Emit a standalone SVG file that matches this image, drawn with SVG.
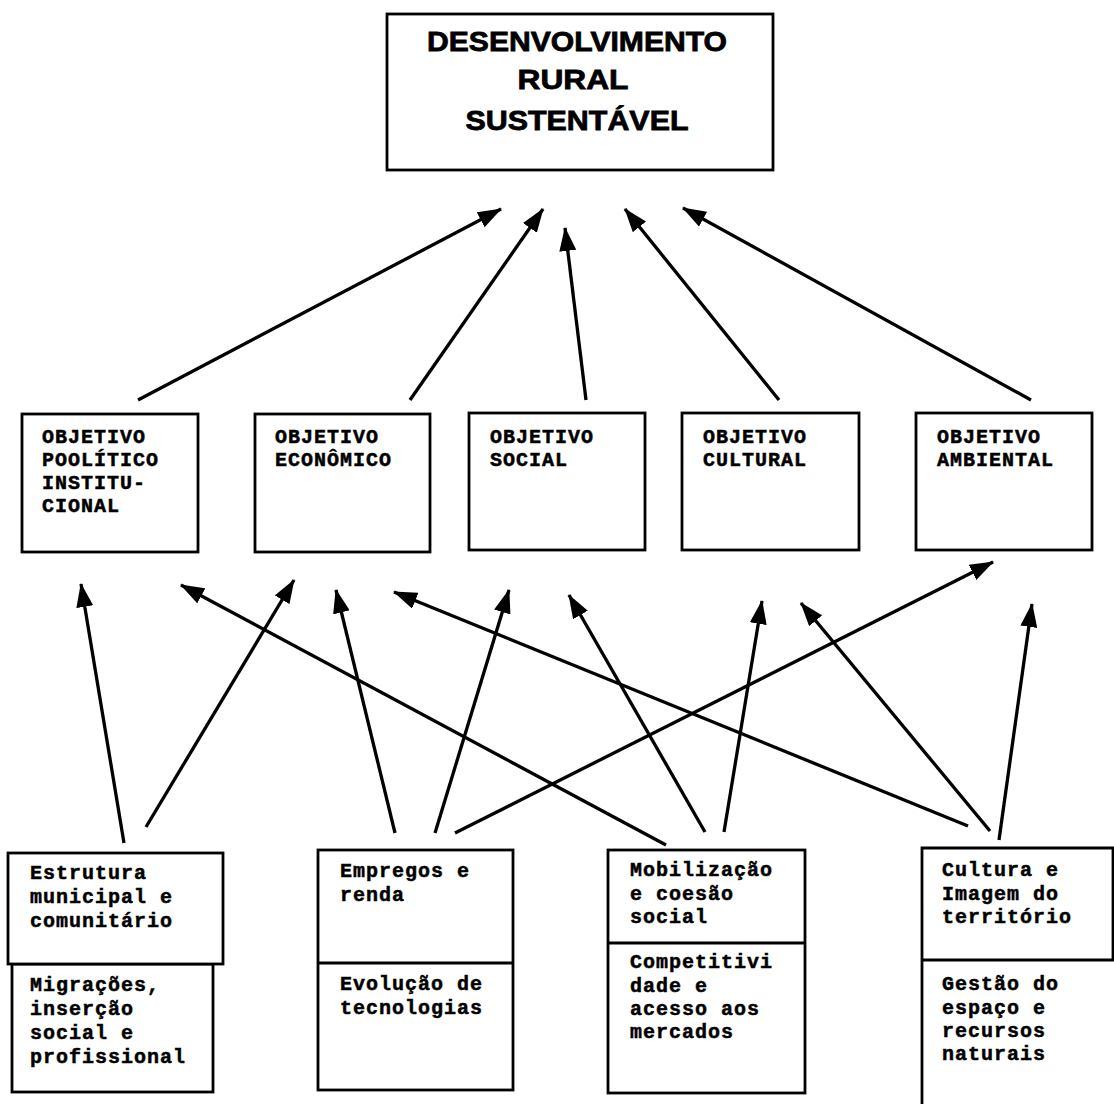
<svg xmlns="http://www.w3.org/2000/svg" width="1114" height="1104" viewBox="0 0 1114 1104">
<style>
.box{fill:#fff;stroke:#000;stroke-width:2.8}
.t{font-family:"Liberation Mono","Courier New",monospace;font-weight:bold;font-size:20px;letter-spacing:1px;fill:#000;stroke:#000;stroke-width:0.5}
.h{font-family:"Liberation Sans",Arial,sans-serif;font-weight:bold;font-size:28px;fill:#000;stroke:#000;stroke-width:0.8;text-anchor:middle}
.c{stroke:#000;stroke-width:3.3;fill:none;marker-end:url(#ah)}
.d{stroke:#000;stroke-width:2.8}
</style>
<defs>
<marker id="ah" viewBox="0 0 24 17" refX="23" refY="8.5" markerWidth="24" markerHeight="17" markerUnits="userSpaceOnUse" orient="auto">
<path d="M0,0 L24,8.5 L0,17 z" fill="#000"/>
</marker>
</defs>
<rect width="1114" height="1104" fill="#fff"/>
<g id="connectors">
<line class="c" x1="138" y1="400" x2="501" y2="209"/>
<line class="c" x1="410" y1="400" x2="543" y2="209"/>
<line class="c" x1="586" y1="400" x2="565" y2="228"/>
<line class="c" x1="779" y1="400" x2="625" y2="209"/>
<line class="c" x1="1031" y1="400" x2="683" y2="208"/>
<line class="c" x1="124" y1="843" x2="81" y2="584"/>
<line class="c" x1="146" y1="827" x2="294" y2="580"/>
<line class="c" x1="395" y1="833" x2="336" y2="590"/>
<line class="c" x1="435" y1="833" x2="509" y2="590"/>
<line class="c" x1="455" y1="833" x2="993" y2="562"/>
<line class="c" x1="666" y1="845" x2="181" y2="585"/>
<line class="c" x1="705" y1="832" x2="569" y2="595"/>
<line class="c" x1="724" y1="832" x2="762" y2="601"/>
<line class="c" x1="968" y1="826" x2="394" y2="592"/>
<line class="c" x1="990" y1="831" x2="801" y2="603"/>
<line class="c" x1="999" y1="840" x2="1032" y2="604"/>
</g>
<g id="top">
<rect class="box" x="387" y="14" width="386" height="156"/>
<text class="h" x="577" y="51" textLength="300" lengthAdjust="spacingAndGlyphs">DESENVOLVIMENTO</text>
<text class="h" x="573" y="89" textLength="111" lengthAdjust="spacingAndGlyphs">RURAL</text>
<text class="h" x="577" y="130" textLength="223" lengthAdjust="spacingAndGlyphs">SUSTENTÁVEL</text>
</g>
<g id="obj-politico">
<rect class="box" x="22" y="414" width="176" height="138"/>
<text class="t" x="42" y="443">OBJETIVO</text>
<text class="t" x="42" y="466">POOLÍTICO</text>
<text class="t" x="42" y="489">INSTITU-</text>
<text class="t" x="42" y="512">CIONAL</text>
</g>
<g id="obj-economico">
<rect class="box" x="255" y="414" width="175" height="138"/>
<text class="t" x="275" y="443">OBJETIVO</text>
<text class="t" x="275" y="466">ECONÔMICO</text>
</g>
<g id="obj-social">
<rect class="box" x="469" y="413" width="176" height="137"/>
<text class="t" x="490" y="443">OBJETIVO</text>
<text class="t" x="490" y="466">SOCIAL</text>
</g>
<g id="obj-cultural">
<rect class="box" x="682" y="413" width="177" height="137"/>
<text class="t" x="703" y="443">OBJETIVO</text>
<text class="t" x="703" y="466">CULTURAL</text>
</g>
<g id="obj-ambiental">
<rect class="box" x="916" y="413" width="176" height="137"/>
<text class="t" x="937" y="443">OBJETIVO</text>
<text class="t" x="937" y="466">AMBIENTAL</text>
</g>
<g id="estrutura">
<rect class="box" x="12" y="964" width="201" height="128"/>
<rect class="box" x="8" y="853" width="215" height="111"/>
<text class="t" x="30" y="879">Estrutura</text>
<text class="t" x="30" y="903">municipal e</text>
<text class="t" x="30" y="927">comunitário</text>
<text class="t" x="30" y="991">Migrações,</text>
<text class="t" x="30" y="1015">inserção</text>
<text class="t" x="30" y="1039">social e</text>
<text class="t" x="30" y="1063">profissional</text>
</g>
<g id="empregos">
<rect class="box" x="318" y="850" width="195" height="240"/>
<line class="d" x1="318" y1="963" x2="513" y2="963"/>
<text class="t" x="340" y="877">Empregos e</text>
<text class="t" x="340" y="901">renda</text>
<text class="t" x="340" y="990">Evolução de</text>
<text class="t" x="340" y="1014">tecnologias</text>
</g>
<g id="mobilizacao">
<rect class="box" x="608" y="850" width="197" height="243"/>
<line class="d" x1="608" y1="943" x2="805" y2="943"/>
<text class="t" x="630" y="876">Mobilização</text>
<text class="t" x="630" y="900">e coesão</text>
<text class="t" x="630" y="923">social</text>
<text class="t" x="630" y="968">Competitivi</text>
<text class="t" x="630" y="992">dade e</text>
<text class="t" x="630" y="1015">acesso aos</text>
<text class="t" x="630" y="1038">mercados</text>
</g>
<g id="cultura">
<path d="M922,1104 L922,848 L1113,848 L1113,960" fill="none" stroke="#000" stroke-width="2.8"/>
<line class="d" x1="922" y1="960" x2="1114" y2="960"/>
<text class="t" x="942" y="876">Cultura e</text>
<text class="t" x="942" y="900">Imagem do</text>
<text class="t" x="942" y="923">território</text>
<text class="t" x="942" y="990">Gestão do</text>
<text class="t" x="942" y="1014">espaço e</text>
<text class="t" x="942" y="1037">recursos</text>
<text class="t" x="942" y="1060">naturais</text>
</g>
</svg>
